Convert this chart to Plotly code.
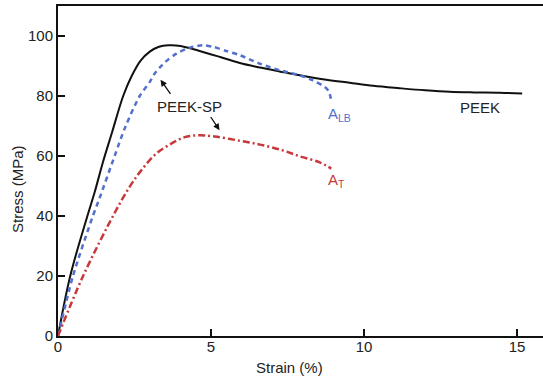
import plotly.graph_objects as go

# PEEK (solid black)
peek_strain = [0, 0.4, 0.96, 1.2, 1.47, 1.77, 2.13, 2.4, 2.7, 3.0, 3.3, 3.6, 4.0, 4.6, 5.3, 5.94,
               6.6, 7.24, 7.9, 8.77, 9.53, 10.3, 11.16, 12.0, 12.8, 13.6, 14.43, 15.17]
peek_stress = [0, 20, 40, 48, 58, 68, 80, 86.5, 91.8, 94.8, 96.4, 96.9, 96.7, 95.1, 93.0, 91.0,
               89.5, 88.2, 86.9, 85.4, 84.4, 83.4, 82.6, 81.9, 81.4, 81.2, 81.1, 80.8]

# A_LB (blue dashed)
alb_strain = [0, 0.49, 1.14, 1.36, 1.85, 2.2, 2.67, 3.0, 3.16, 3.5, 3.87, 4.3, 4.74, 5.1, 5.5,
              5.94, 6.59, 7.24, 7.9, 8.33, 8.72, 8.85, 8.93]
alb_stress = [0, 20, 40, 46, 60, 69.7, 80, 84.7, 87.5, 91.3, 94.1, 96.1, 96.9, 96.3, 95.0,
              93.6, 90.8, 88.6, 86.9, 85.2, 83.0, 81.5, 78.5]

# A_T (red dash-dot)
at_strain = [0, 0.82, 1.85, 2.34, 2.72, 3.21, 3.7, 4.14, 4.6, 5.12, 5.93, 6.6, 7.3, 7.9, 8.55, 8.93]
at_stress = [0, 20, 41, 49.7, 55.2, 60.8, 64.1, 66.3, 66.9, 66.5, 65.1, 63.8, 62.0, 59.9, 57.9, 55.8]

x_ticks = [0, 5, 10, 15]
y_ticks = [0, 20, 40, 60, 80, 100]

FONT = "Liberation Sans, Arial, sans-serif"
TXT = "#222222"
BLUE = "#5470cc"
RED = "#c8383a"

W, H = 543, 378
ML, MR, MT, MB = 58, 0, 6, 42
PW, PH = W - ML - MR, H - MT - MB

fig = go.Figure()
fig.add_trace(go.Scatter(x=peek_strain, y=peek_stress, mode="lines", name="PEEK",
                         line=dict(color="#111111", width=2, shape="spline", smoothing=1.0)))
fig.add_trace(go.Scatter(x=alb_strain, y=alb_stress, mode="lines", name="A_LB",
                         line=dict(color=BLUE, width=2.5, dash="5px,4px", shape="spline", smoothing=0.8)))
fig.add_trace(go.Scatter(x=at_strain, y=at_stress, mode="lines", name="A_T",
                         line=dict(color=RED, width=2.5, dash="7px,3px,2px,3px", shape="spline", smoothing=1.0)))

annotations = [
    dict(x=8.75, y=74, text="A<sub>LB</sub>", showarrow=False, xanchor="left",
         font=dict(color=BLUE, size=15, family=FONT)),
    dict(x=8.75, y=51.7, text="A<sub>T</sub>", showarrow=False, xanchor="left",
         font=dict(color=RED, size=15, family=FONT)),
    dict(x=13.8, y=76.3, text="PEEK", showarrow=False,
         font=dict(color=TXT, size=15, family=FONT)),
    dict(x=4.3, y=76.6, text="PEEK-SP", showarrow=False,
         font=dict(color=TXT, size=15, family=FONT)),
    dict(x=3.35, y=85.4, ax=3.71, ay=80.2, axref="x", ayref="y", text="", showarrow=True,
         arrowhead=2, arrowsize=1, arrowwidth=1.3, arrowcolor="#111111"),
    dict(x=5.28, y=68.6, ax=4.96, ay=73.5, axref="x", ayref="y", text="", showarrow=True,
         arrowhead=2, arrowsize=1, arrowwidth=1.3, arrowcolor="#111111"),
    dict(x=(289 - ML) / PW, y=-(367 - (MT + PH)) / PH, xref="paper", yref="paper",
         xanchor="center", yanchor="middle",
         text="Strain (%)", showarrow=False, font=dict(color=TXT, size=15, family=FONT)),
    dict(x=-(ML - 17) / PW, y=((MT + PH) - 189) / PH, xref="paper", yref="paper",
         xanchor="center", yanchor="middle",
         text="Stress (MPa)", showarrow=False, textangle=-90,
         font=dict(color=TXT, size=15, family=FONT)),
]

fig.update_layout(
    width=W, height=H,
    margin=dict(l=ML, r=MR, t=MT, b=MB, autoexpand=False),
    paper_bgcolor="white", plot_bgcolor="white",
    showlegend=False,
    font=dict(family=FONT, size=15, color=TXT),
    annotations=annotations,
    xaxis=dict(range=[0, 15.85], tickvals=x_ticks, ticktext=[str(v) for v in x_ticks],
               ticks="inside", ticklen=7, tickwidth=1.5, tickcolor="#111111",
               ticklabelstandoff=-4,
               showline=True, linecolor="#111111", linewidth=2, mirror=True,
               showgrid=False, zeroline=False, automargin=False),
    yaxis=dict(range=[0, 110], tickvals=y_ticks, ticktext=[str(v) for v in y_ticks],
               ticks="inside", ticklen=7, tickwidth=1.5, tickcolor="#111111",
               showline=True, linecolor="#111111", linewidth=2,
               showgrid=False, zeroline=False, automargin=False),
)

fig.write_html("out.html", config={"displayModeBar": False},
               post_script="document.body.style.margin='0';document.body.style.overflow='hidden';")
